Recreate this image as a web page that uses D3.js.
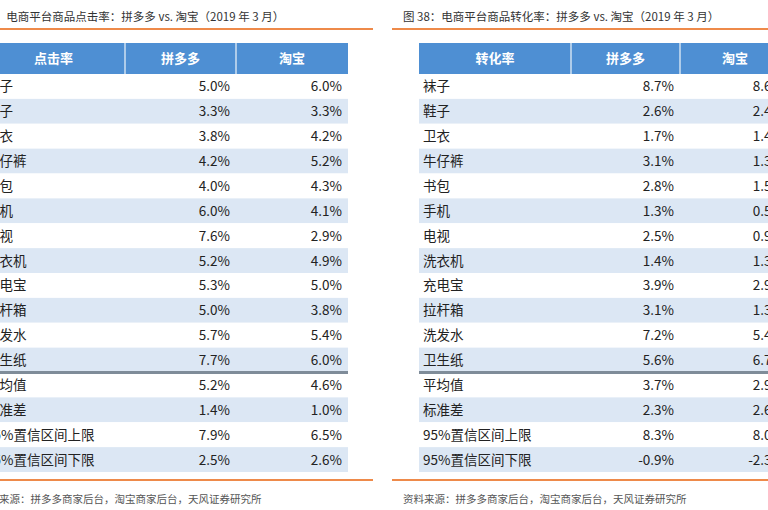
<!DOCTYPE html>
<html><head><meta charset="utf-8">
<script src="https://cdn.jsdelivr.net/npm/d3@7"></script>
<style>body{margin:0;background:#fff}text{font-family:"Noto Sans CJK SC","Noto Sans",sans-serif}</style>
</head><body><svg id="c" width="768" height="510"></svg>
<script>
const items=["袜子","鞋子","卫衣","牛仔裤","书包","手机","电视","洗衣机","充电宝","拉杆箱","洗发水","卫生纸","平均值","标准差","95%置信区间上限","95%置信区间下限"];
const clickPdd=[5.0,3.3,3.8,4.2,4.0,6.0,7.6,5.2,5.3,5.0,5.7,7.7,5.2,1.4,7.9,2.5];
const clickTb=[6.0,3.3,4.2,5.2,4.3,4.1,2.9,4.9,5.0,3.8,5.4,6.0,4.6,1.0,6.5,2.6];
const convPdd=[8.7,2.6,1.7,3.1,2.8,1.3,2.5,1.4,3.9,3.1,7.2,5.6,3.7,2.3,8.3,-0.9];
const convTb=[8.6,2.4,1.4,1.3,1.5,0.5,0.9,1.3,2.9,1.3,5.4,6.7,2.9,2.6,8.0,-2.3];
const headers1=["点击率","拼多多","淘宝"],headers2=["转化率","拼多多","淘宝"];
const svg=d3.select("#c");
const orange="#ee8a4a";
function table(o){
  const g=svg.append("g");
  g.append("text").attr("x",o.titleX).attr("y",21).attr("font-size",11.5).attr("fill","#333").text(o.title);
  g.append("line").attr("x1",o.lx1).attr("x2",o.lx2).attr("y1",29).attr("y2",29).attr("stroke",orange).attr("stroke-width",2);
  g.append("line").attr("x1",o.lx1).attr("x2",o.lx2).attr("y1",480).attr("y2",480).attr("stroke",orange).attr("stroke-width",2);
  g.append("text").attr("x",o.srcX).attr("y",503).attr("font-size",10.5).attr("fill","#555").text("资料来源：拼多多商家后台，淘宝商家后台，天风证券研究所");
  const y=d3.scaleBand().domain(d3.range(items.length)).range([74,472]);
  const cols=o.cols;
  g.append("rect").attr("x",cols[0]).attr("y",43).attr("width",cols[3]-cols[0]).attr("height",31).attr("fill","#4e8fd3");
  [1,2].forEach(i=>g.append("line").attr("x1",cols[i]).attr("x2",cols[i]).attr("y1",43).attr("y2",74).attr("stroke","#cfe0f2").attr("stroke-width",1.5));
  o.headers.forEach((h,i)=>g.append("text").attr("x",(cols[i]+cols[i+1])/2).attr("y",63).attr("text-anchor","middle").attr("font-size",13).attr("font-weight","bold").attr("fill","#fff").text(h));
  items.forEach((it,i)=>{
    g.append("rect").attr("x",cols[0]).attr("y",y(i)).attr("width",cols[3]-cols[0]).attr("height",y.bandwidth()).attr("fill",i%2?"#dce7f4":"#fff");
    const ty=y(i)+y.bandwidth()/2+5;
    g.append("text").attr("x",cols[0]+4).attr("y",ty).attr("font-size",13.5).attr("fill","#222").text(it);
    g.append("text").attr("x",cols[2]-6).attr("y",ty).attr("text-anchor","end").attr("font-size",13.5).attr("fill","#222").text(o.a[i].toFixed(1)+"%");
    g.append("text").attr("x",cols[3]-6).attr("y",ty).attr("text-anchor","end").attr("font-size",13.5).attr("fill","#222").text(o.b[i].toFixed(1)+"%");
  });
  g.append("line").attr("x1",cols[0]).attr("x2",cols[3]).attr("y1",y(12)).attr("y2",y(12)).attr("stroke","#7f8c99").attr("stroke-width",3);
}
table({title:"图 37：电商平台商品点击率：拼多多 vs. 淘宝（2019 年 3 月）",titleX:-32,lx1:0,lx2:373,srcX:-22,cols:[-18,125,236,348],headers:headers1,a:clickPdd,b:clickTb});
table({title:"图 38：电商平台商品转化率：拼多多 vs. 淘宝（2019 年 3 月）",titleX:403,lx1:392,lx2:800,srcX:403,cols:[419,571,680,790],headers:headers2,a:convPdd,b:convTb});
</script></body></html>
